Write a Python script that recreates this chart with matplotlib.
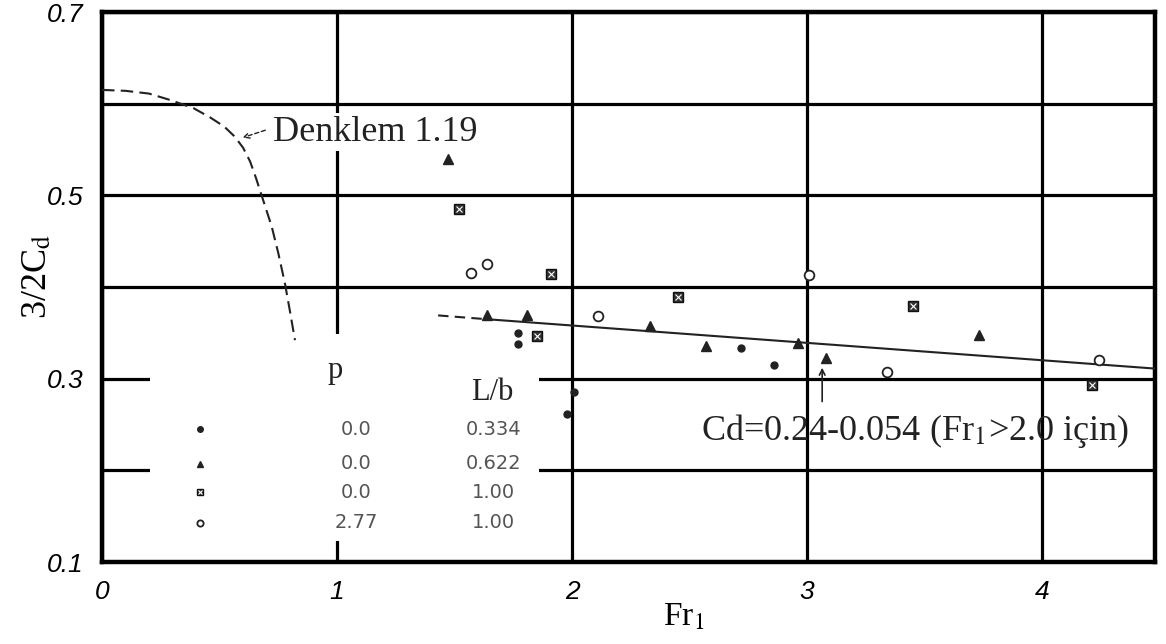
import matplotlib
matplotlib.use("Agg")
import matplotlib.pyplot as plt
from matplotlib.patches import Rectangle

plt.rcParams["mathtext.fontset"] = "stix"

SERIF = "Liberation Serif"
SANS = "Liberation Sans"

# ── Data ────────────────────────────────────────────────────
# Denklem 1.19 (dashed theoretical curve)
curve_x = [0.0, 0.1, 0.2, 0.29, 0.39, 0.46, 0.52, 0.565, 0.60, 0.63, 0.655,
           0.679, 0.722, 0.75, 0.779, 0.80, 0.821]
curve_y = [0.615, 0.614, 0.611, 0.604, 0.595, 0.585, 0.575, 0.564, 0.552,
           0.537, 0.519, 0.50, 0.466, 0.437, 0.403, 0.373, 0.342]

# fitted line: dashed start, then solid
fit_dash_x = [1.43, 1.63]
fit_dash_y = [0.369, 0.365]
fit_x = [1.63, 4.48]
fit_y = [0.365, 0.311]

# p=0.0, L/b=0.334 (filled circle)
circ_x = [1.77, 1.77, 2.72, 2.86, 2.01, 1.98]
circ_y = [0.350, 0.338, 0.333, 0.315, 0.286, 0.262]
# p=0.0, L/b=0.622 (triangle)
tri_x = [1.47, 1.64, 1.81, 2.33, 2.57, 2.96, 3.08, 3.73]
tri_y = [0.540, 0.370, 0.370, 0.358, 0.336, 0.339, 0.323, 0.348]
# p=0.0, L/b=1.00 (hatched square)
sq_x = [1.52, 1.85, 1.91, 2.45, 3.45, 4.21]
sq_y = [0.485, 0.347, 0.414, 0.389, 0.379, 0.293]
# p=2.77, L/b=1.00 (open circle)
open_x = [1.57, 1.64, 2.11, 3.01, 3.34, 4.24]
open_y = [0.415, 0.425, 0.368, 0.413, 0.307, 0.320]

# legend table
p_vals = ["0.0", "0.0", "0.0", "2.77"]
lb_vals = ["0.334", "0.622", "1.00", "1.00"]

x_ticks = [0, 1, 2, 3, 4]
y_ticks = [0.1, 0.2, 0.3, 0.4, 0.5, 0.6, 0.7]
y_ticklabels = ["0.1", "", "0.3", "", "0.5", "", "0.7"]

# ── Marker styles ───────────────────────────────────────────
circ_style = dict(marker="o", color="#222", mec="#222", ls="none")
tri_style = dict(marker="^", color="#222", mec="#222", ls="none")
sq_style = dict(marker="s", color="#333", mec="#111", ls="none")
open_style = dict(marker="o", mfc="white", mec="#222", mew=1.3, ls="none")


def draw_square(ax, x, y, ms):
    ax.plot(x, y, ms=ms, zorder=4, **sq_style)
    ax.plot(x, y, marker="x", ls="none", color="white", ms=ms * 0.6,
            mew=0.8, zorder=5)


fig = plt.figure(figsize=(11.66, 6.44), dpi=100)
ax = fig.add_axes([102 / 1166, 1 - 562 / 644, 1053 / 1166, 550 / 644])

ax.set_xlim(0, 4.48)
ax.set_ylim(0.1, 0.7)
ax.set_xticks(x_ticks)
ax.set_yticks(y_ticks)
ax.set_yticklabels(y_ticklabels)
ax.grid(True, color="black", lw=2.3)
ax.set_axisbelow(True)
for s in ax.spines.values():
    s.set_linewidth(3.2)
ax.tick_params(length=0, pad=13, labelsize=19)
for lab in ax.get_xticklabels() + ax.get_yticklabels():
    lab.set_fontstyle("italic")
    lab.set_family(SANS)

# white area behind the legend table (grid is broken there)
ax.add_patch(Rectangle((0.205, 0.123), 1.655, 0.226, fc="white",
                       ec="none", zorder=1))

# curves
ax.plot(curve_x, curve_y, color="#222", lw=1.5, ls=(0, (6, 3)), zorder=3)
ax.plot(fit_dash_x, fit_dash_y, color="#222", lw=1.5, ls=(0, (5, 3)), zorder=3)
ax.plot(fit_x, fit_y, color="#222", lw=1.5, zorder=3)

# data points
ax.plot(circ_x, circ_y, ms=5, zorder=4, **circ_style)
ax.plot(tri_x, tri_y, ms=7, zorder=4, **tri_style)
draw_square(ax, sq_x, sq_y, 6.5)
ax.plot(open_x, open_y, ms=7, zorder=4, **open_style)

# annotations
ax.text(0.728, 0.569, "Denklem 1.19", family=SERIF, fontsize=26,
        va="center", ha="left", color="#222", zorder=2,
        bbox=dict(fc="white", ec="none", pad=2))
ax.annotate("", xy=(0.587, 0.562), xytext=(0.706, 0.572),
            arrowprops=dict(arrowstyle="->", lw=1, ls=(0, (3, 2)), color="#222"))
ax.text(2.55, 0.243, "Cd=0.24-0.054 (Fr$_\\mathrm{1}$>2.0 için)", family=SERIF,
        fontsize=26, va="center", ha="left", color="#222", zorder=6)
ax.annotate("", xy=(3.064, 0.315), xytext=(3.064, 0.272),
            arrowprops=dict(arrowstyle="->", lw=1.2, color="#222"))

# legend table
ax.text(0.99, 0.309, "p", family=SERIF, fontsize=22, ha="center", va="center",
        color="#222", zorder=6)
ax.text(1.66, 0.285, "L/b", family=SERIF, fontsize=22, ha="center", va="center",
        color="#222", zorder=6)
row_y = [0.245, 0.207, 0.176, 0.143]
ax.plot(0.417, row_y[0], ms=4, zorder=4, **circ_style)
ax.plot(0.417, row_y[1], ms=5, zorder=4, **tri_style)
draw_square(ax, [0.417], [row_y[2]], 4.5)
ax.plot(0.417, row_y[3], ms=4.5, zorder=4, **open_style)
for yy, pv, lv in zip(row_y, p_vals, lb_vals):
    ax.text(1.08, yy, pv, fontsize=14, ha="center", va="center", color="#555",
            family="DejaVu Sans", zorder=6)
    ax.text(1.665, yy, lv, fontsize=14, ha="center", va="center", color="#555",
            family="DejaVu Sans", zorder=6)

ax.set_xlabel("Fr$_\\mathrm{1}$", family=SERIF, fontsize=24)
ax.xaxis.set_label_coords(0.552, -0.072)
ax.set_ylabel("3/2C$_\\mathrm{d}$", family=SERIF, fontsize=26)
ax.yaxis.set_label_coords(-0.045, 0.52)

fig.savefig("out.png", dpi=100)
